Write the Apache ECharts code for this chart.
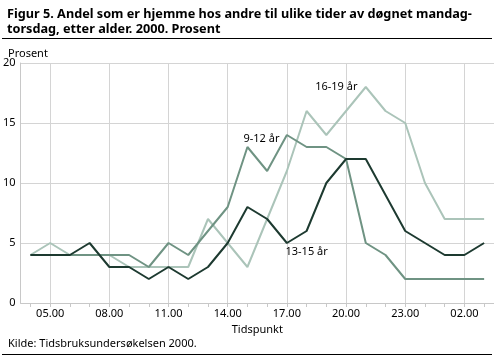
<!DOCTYPE html>
<html><head><meta charset="utf-8">
<script src="https://cdn.jsdelivr.net/npm/echarts@6/dist/echarts.min.js"></script>
<style>html,body{margin:0;padding:0;background:#fff}#c{width:494px;height:356px}</style>
</head><body><div id="c"></div>
<script>
const hours = ['04.00','05.00','06.00','07.00','08.00','09.00','10.00','11.00','12.00','13.00','14.00','15.00','16.00','17.00','18.00','19.00','20.00','21.00','22.00','23.00','00.00','01.00','02.00','03.00'];
const age9_12 = [4,4,4,4,4,4,3,5,4,6,8,13,11,14,13,13,12,5,4,2,2,2,2,2];
const age13_15 = [4,4,4,5,3,3,2,3,2,3,5,8,7,5,6,10,12,12,9,6,5,4,4,5];
const age16_19 = [4,5,4,4,4,3,3,3,3,7,5,3,7,11,16,14,16,18,16,15,10,7,7,7];
const yTicks = [0,5,10,15,20];
const FONT = 'Noto Sans';
const showIdx = (i) => i % 3 === 1;

const chart = echarts.init(document.getElementById('c'));
const lbl = (text, coord, off) => ({
  symbol: 'circle', symbolSize: 1, itemStyle: { color: 'rgba(0,0,0,0)' },
  label: { show: true, position: 'inside', formatter: text, color: '#000', fontFamily: FONT, fontSize: 11, offset: off },
  data: [{ coord: coord, value: text }]
});
chart.setOption({
  animation: false,
  textStyle: { fontFamily: FONT },
  title: [{
    text: 'Figur 5. Andel som er hjemme hos andre til ulike tider av døgnet mandag-\ntorsdag, etter alder. 2000. Prosent',
    left: 2, top: 2,
    textStyle: { fontFamily: FONT, fontWeight: 'bold', fontSize: 12.7, lineHeight: 15, color: '#000' }
  }, {
    text: 'Prosent', left: 3, top: 43,
    textStyle: { fontFamily: FONT, fontWeight: 'normal', fontSize: 11, color: '#000' }
  }, {
    text: 'Kilde: Tidsbruksundersøkelsen 2000.', left: 3, top: 333,
    textStyle: { fontFamily: FONT, fontWeight: 'normal', fontSize: 11, color: '#000' }
  }],
  graphic: [
    { type: 'line', shape: { x1: 2, y1: 38.5, x2: 492, y2: 38.5 }, style: { stroke: '#000', lineWidth: 1 } },
    { type: 'line', shape: { x1: 2, y1: 354.5, x2: 492, y2: 354.5 }, style: { stroke: '#000', lineWidth: 1 } }
  ],
  grid: { left: 19, right: 0, top: 63, bottom: 53, containLabel: false },
  xAxis: {
    type: 'category', data: hours, boundaryGap: true,
    name: 'Tidspunkt', nameLocation: 'middle', nameGap: 19,
    nameTextStyle: { color: '#000', fontSize: 11, fontFamily: FONT },
    axisLine: { lineStyle: { color: '#c8c8c8', width: 1 } },
    axisTick: { show: true, interval: 0, alignWithLabel: true, length: 4, lineStyle: { color: '#c8c8c8' } },
    axisLabel: { interval: (i) => showIdx(i), color: '#000', fontSize: 11, fontFamily: FONT, margin: 5 },
    splitLine: { show: true, interval: (i) => showIdx(i), alignWithLabel: true, lineStyle: { color: '#d4d4d4', width: 1 } }
  },
  yAxis: {
    type: 'value', min: yTicks[0], max: yTicks[yTicks.length - 1], interval: 5,
    axisLine: { show: true, lineStyle: { color: '#c8c8c8' } },
    axisTick: { show: false },
    axisLabel: { color: '#000', fontSize: 11, fontFamily: FONT, margin: 5 },
    splitLine: { lineStyle: { color: '#d4d4d4', width: 1 } }
  },
  series: [
    { name: '16-19 år', type: 'line', data: age16_19, symbol: 'none',
      lineStyle: { color: '#abc4b9', width: 2 }, itemStyle: { color: '#abc4b9' },
      markPoint: lbl('16-19 år', ['19.00', 18], [10, 0]) },
    { name: '9-12 år', type: 'line', data: age9_12, symbol: 'none',
      lineStyle: { color: '#6f9383', width: 2 }, itemStyle: { color: '#6f9383' },
      markPoint: lbl('9-12 år', ['15.00', 13.7], [14, 0]) },
    { name: '13-15 år', type: 'line', data: age13_15, symbol: 'none',
      lineStyle: { color: '#1d3a30', width: 2 }, itemStyle: { color: '#1d3a30' },
      markPoint: lbl('13-15 år', ['18.00', 4.25], [0, 0]) }
  ]
});
</script></body></html>
